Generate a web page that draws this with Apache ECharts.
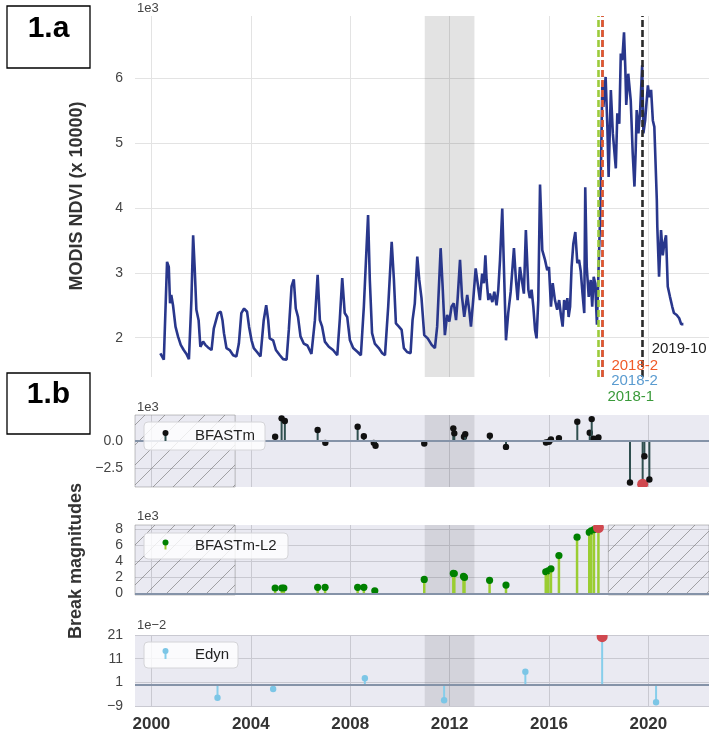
<!DOCTYPE html>
<html><head><meta charset="utf-8">
<script src="https://cdn.jsdelivr.net/npm/echarts@6/dist/echarts.min.js"></script>
<style>html,body{margin:0;padding:0;background:#fff}#c{width:709px;height:740px}</style>
</head><body><div id="c"></div>
<script>
// ---------- DATA ----------
const xTicks = [2000, 2004, 2008, 2012, 2016, 2020];
const ndviTicks = [2000, 3000, 4000, 5000, 6000];
const bfastmTicks = [-2500, 0];
const l2Ticks = [0, 2000, 4000, 6000, 8000];
const edynTicks = [-0.09, 0.01, 0.11, 0.21];

const ndviYears = [2000.36,2000.50,2000.63,2000.70,2000.75,2000.80,2000.87,2000.97,2001.07,2001.18,2001.30,2001.41,2001.51,2001.61,2001.68,2001.74,2001.81,2001.90,2001.97,2002.08,2002.17,2002.28,2002.42,2002.51,2002.59,2002.68,2002.79,2002.86,2002.92,2003.02,2003.15,2003.29,2003.42,2003.52,2003.62,2003.73,2003.85,2003.93,2004.03,2004.12,2004.25,2004.39,2004.52,2004.62,2004.70,2004.76,2004.90,2005.01,2005.17,2005.30,2005.44,2005.53,2005.64,2005.73,2005.81,2005.90,2006.00,2006.13,2006.28,2006.44,2006.58,2006.69,2006.78,2006.87,2006.98,2007.14,2007.31,2007.48,2007.58,2007.68,2007.78,2007.88,2007.99,2008.12,2008.30,2008.43,2008.55,2008.66,2008.72,2008.79,2008.88,2008.99,2009.15,2009.29,2009.40,2009.53,2009.67,2009.76,2009.84,2009.96,2010.07,2010.16,2010.29,2010.43,2010.51,2010.60,2010.70,2010.78,2010.87,2010.98,2011.12,2011.28,2011.41,2011.50,2011.64,2011.72,2011.81,2011.90,2011.99,2012.08,2012.17,2012.26,2012.32,2012.42,2012.50,2012.59,2012.71,2012.79,2012.86,2012.95,2013.05,2013.13,2013.22,2013.31,2013.38,2013.44,2013.49,2013.56,2013.62,2013.72,2013.80,2013.89,2013.96,2014.03,2014.12,2014.19,2014.27,2014.36,2014.46,2014.52,2014.59,2014.67,2014.74,2014.83,2014.91,2014.99,2015.07,2015.17,2015.23,2015.30,2015.37,2015.44,2015.50,2015.57,2015.64,2015.73,2015.84,2015.93,2016.00,2016.08,2016.15,2016.24,2016.33,2016.41,2016.48,2016.55,2016.61,2016.68,2016.74,2016.79,2016.85,2016.91,2016.98,2017.06,2017.14,2017.21,2017.28,2017.35,2017.42,2017.46,2017.52,2017.60,2017.68,2017.74,2017.80,2017.86,2017.93,2017.98,2018.06,2018.15,2018.19,2018.28,2018.35,2018.40,2018.49,2018.57,2018.69,2018.75,2018.83,2018.89,2018.95,2019.02,2019.07,2019.11,2019.19,2019.29,2019.37,2019.44,2019.49,2019.53,2019.60,2019.67,2019.75,2019.80,2019.87,2019.98,2020.04,2020.11,2020.18,2020.24,2020.34,2020.36,2020.43,2020.51,2020.58,2020.64,2020.71,2020.78,2020.87,2020.96,2021.03,2021.14,2021.24,2021.32,2021.41];
const ndviValues = [1760,1660,3170,3090,2530,2660,2500,2170,2020,1890,1810,1750,1670,2580,3580,3090,2430,2270,1860,1940,1890,1850,1810,2140,2170,2380,2400,2270,2070,1840,1810,1730,1710,1910,2380,2450,2400,2170,1960,1840,1780,1710,2270,2500,2270,1990,1960,1810,1730,1670,1660,2120,2790,2900,2450,2320,2020,1910,1880,1750,2270,2970,2270,2170,1940,1860,1810,1730,2270,2920,2380,2320,1960,1840,1780,1730,2480,3400,3890,2890,2070,1910,1840,1760,1730,2480,3480,2890,2220,2170,2120,1840,1780,1760,2270,2530,3250,2890,2610,2040,1990,1890,1840,2170,3380,2790,2040,2350,2250,2480,2530,2270,2580,3200,2630,2320,2660,2430,2170,2580,3070,3040,2580,2990,2840,3270,2890,2580,2680,2550,2710,2500,2740,3200,3990,3040,1960,2380,2710,2740,3380,2890,2580,3090,3120,2680,3660,2740,2610,2740,2480,2120,1990,2580,4360,3350,3200,3040,3090,2480,2840,2580,2430,2580,2350,2170,2580,2430,2610,2320,2480,3090,3450,3630,3150,3200,3020,2680,2380,4320,3090,2630,2890,2480,2940,2840,2200,2170,3900,5940,5560,6020,5250,4480,5820,5150,4610,5460,5300,6380,6280,6710,6180,5590,6070,5660,4840,4330,4890,5510,5150,5510,6200,5150,5350,5890,5710,5820,5350,5250,4120,3710,2940,3660,3270,3450,3580,2790,2630,2480,2380,2350,2300,2210,2210];

const breakDates = [2017.99, 2018.14, 2018.15, 2019.77];
const breakLabels = ['2018-1', '2018-2', '2018-2', '2019-10'];

const bfastmYears = [2004.98,2005.24,2005.37,2006.69,2007.00,2008.30,2008.55,2008.95,2009.02,2010.98,2012.15,2012.19,2012.58,2012.63,2013.62,2014.27,2015.88,2016.00,2016.08,2016.40,2017.14,2017.64,2017.72,2017.80,2017.99,2019.26,2019.77,2019.84,2020.04];
const bfastmMags = [370,2070,1820,990,-190,1300,430,-190,-460,-250,1150,690,370,620,460,-560,-150,-90,130,250,1760,740,2000,190,310,-3850,-4000,-1420,-3570];

const l2Years = [2004.98,2005.25,2005.33,2006.69,2006.99,2008.30,2008.55,2008.99,2010.98,2012.15,2012.19,2012.56,2012.60,2013.61,2014.27,2015.87,2015.97,2016.08,2016.40,2017.13,2017.62,2017.70,2017.81,2017.99];
const l2Mags = [660,660,660,740,740,740,740,320,1730,2480,2450,2100,1980,1610,1030,2680,2800,3050,4700,6980,7600,7760,7930,8180];

const edynYears = [2002.66,2004.90,2008.59,2011.78,2015.05,2018.14,2020.31];
const edynMags = [-0.055,-0.018,0.027,-0.066,0.055,0.203,-0.074];

const shadeRange = [2011, 2013];
const X_MIN = 1999.34, X_MAX = 2022.44;
const hatchLeft = [1999.34, 2003.37];
const hatchRight = [2018.39, 2022.44];

// ---------- STYLE ----------
const FONT = 'Liberation Sans, Arial, Helvetica, sans-serif';
const breakColors = ['#9ccb3b', '#4f94cd', '#e8552a', '#2a2a2a'];
const breakTextColors = ['#3a9a3a', '#5a9bd0', '#f05a28', '#222222'];
const breakTextY = [397, 381, 366, 349];

function hatchPattern() {
  const c = document.createElement('canvas');
  c.width = 20; c.height = 20;
  const g = c.getContext('2d');
  g.strokeStyle = 'rgba(110,110,110,0.6)';
  g.lineWidth = 1;
  g.beginPath();
  g.moveTo(0, 20); g.lineTo(20, 0);
  g.moveTo(-2, 2); g.lineTo(2, -2);
  g.moveTo(18, 22); g.lineTo(22, 18);
  g.stroke();
  return { image: c, repeat: 'repeat' };
}
const HATCH = hatchPattern();

const grids = [
  { left: 135, right: 0, top: 16, height: 361 },
  { left: 135, right: 0, top: 415, height: 72, show: true, backgroundColor: '#eaeaf2', borderWidth: 0 },
  { left: 135, right: 0, top: 525, height: 70, show: true, backgroundColor: '#eaeaf2', borderWidth: 0 },
  { left: 135, right: 0, top: 635, height: 71, show: true, backgroundColor: '#eaeaf2', borderWidth: 0 }
];

function xAxisCfg(gi, showLabels) {
  return {
    type: 'value', gridIndex: gi, min: X_MIN, max: X_MAX,
    axisLine: { show: false },
    axisTick: { show: false, customValues: xTicks },
    axisLabel: { show: showLabels, customValues: xTicks, margin: 10, fontSize: 17, fontWeight: 'bold', color: '#333', fontFamily: FONT, formatter: v => String(Math.round(v)) },
    splitLine: { show: true, lineStyle: { color: gi === 0 ? '#e3e3e3' : '#c9c9d1', width: 1 } }
  };
}
const minus = s => s.replace('-', '\u2212');
function yAxisCfg(gi, min, max, ticks, fmt) {
  return {
    type: 'value', gridIndex: gi, min: min, max: max,
    axisLine: { show: false },
    axisTick: { show: false, customValues: ticks },
    axisLabel: { customValues: ticks, margin: 12, fontSize: 14, color: '#444', fontFamily: FONT, formatter: fmt },
    splitLine: { show: true, lineStyle: { color: gi === 0 ? '#e3e3e3' : '#c9c9d1', width: 1 } }
  };
}

function stemSeries(gi, years, mags, stemColor, dotColor, r, stemW) {
  let hi = 0;
  mags.forEach((m, i) => { if (Math.abs(m) > Math.abs(mags[hi])) hi = i; });
  const data = years.map((y, i) => [y, mags[i], i === hi ? 1 : 0]);
  return {
    type: 'custom', xAxisIndex: gi, yAxisIndex: gi, clip: true, z: 3,
    data: data,
    renderItem: function (params, api) {
      const x = api.value(0), v = api.value(1), h = api.value(2);
      const p0 = api.coord([x, 0]), p1 = api.coord([x, v]);
      return {
        type: 'group', children: [
          { type: 'line', shape: { x1: p0[0], y1: p0[1], x2: p1[0], y2: p1[1] }, style: { stroke: stemColor, lineWidth: stemW } },
          { type: 'circle', shape: { cx: p1[0], cy: p1[1], r: h ? 5.5 : r }, style: { fill: h ? '#d0484f' : dotColor } }
        ]
      };
    }
  };
}

function panelMarks(gi, hatches) {
  const areas = [[{ xAxis: shadeRange[0], itemStyle: { color: 'rgba(60,60,70,0.13)' } }, { xAxis: shadeRange[1] }]];
  hatches.forEach(hr => areas.push([{ xAxis: hr[0], itemStyle: { color: HATCH, borderColor: 'rgba(120,120,120,0.45)', borderWidth: 1 } }, { xAxis: hr[1] }]));
  return {
    type: 'line', xAxisIndex: gi, yAxisIndex: gi, data: [], z: 1,
    markArea: { silent: true, data: areas },
    markLine: { silent: true, symbol: 'none', label: { show: false }, data: [{ yAxis: 0 }], lineStyle: { color: '#8593a8', width: 2, type: 'solid' } }
  };
}

const chart = echarts.init(document.getElementById('c'), null, { renderer: 'canvas' });
const option = {
  animation: false,
  backgroundColor: '#ffffff',
  textStyle: { fontFamily: FONT },
  grid: grids,
  xAxis: [xAxisCfg(0, false), xAxisCfg(1, false), xAxisCfg(2, false), xAxisCfg(3, true)],
  yAxis: [
    yAxisCfg(0, 1394, 6960, ndviTicks, v => String(Math.round(v / 1000))),
    yAxisCfg(1, -4260, 2380, bfastmTicks, v => minus((v / 1000).toFixed(1))),
    yAxisCfg(2, -210, 8500, l2Ticks, v => String(Math.round(v / 1000))),
    yAxisCfg(3, -0.09, 0.21, edynTicks, v => minus(String(Math.round(v * 100))))
  ],
  series: [
    {
      type: 'line', xAxisIndex: 0, yAxisIndex: 0, showSymbol: false, z: 3,
      data: ndviYears.map((y, i) => [y, ndviValues[i]]),
      lineStyle: { color: '#29378c', width: 2.6 },
      markArea: { silent: true, data: [[{ xAxis: shadeRange[0], itemStyle: { color: 'rgba(0,0,0,0.11)' } }, { xAxis: shadeRange[1] }]] },
      markLine: {
        silent: true, symbol: 'none', label: { show: false },
        data: breakDates.map((d, i) => ({ xAxis: d, lineStyle: { color: breakColors[i], width: 2.6, type: [7, 3] } }))
      }
    },
    panelMarks(1, [hatchLeft]),
    panelMarks(2, [hatchLeft, hatchRight]),
    panelMarks(3, []),
    stemSeries(1, bfastmYears, bfastmMags, '#2f4f4f', '#111111', 3.2, 2),
    stemSeries(2, l2Years, l2Mags, '#9acd32', '#008000', 3.6, 2.5),
    stemSeries(3, edynYears, edynMags, '#87ceeb', '#7cc6e6', 3.2, 2)
  ]
};
chart.setOption(option);

// ---------- ANNOTATIONS ----------
const g = [];
function box(x, y, w, h, label, ty) {
  g.push({ type: 'rect', shape: { x: x, y: y, width: w, height: h }, style: { fill: '#fff', stroke: '#000', lineWidth: 1.3 }, z: 10 });
  g.push({ type: 'text', x: x + w / 2, y: ty, style: { text: label, fontSize: 30, fontWeight: 'bold', fill: '#000', align: 'center', verticalAlign: 'middle', fontFamily: FONT }, z: 11 });
}
box(7, 6, 83, 62, '1.a', 29);
box(7, 373, 83, 61, '1.b', 395);

function vtext(x, y, t) {
  g.push({ type: 'text', x: x, y: y, rotation: Math.PI / 2, style: { text: t, fontSize: 18, fontWeight: 'bold', fill: '#333', align: 'center', verticalAlign: 'middle', fontFamily: FONT }, z: 10 });
}
vtext(77, 196, 'MODIS NDVI (x 10000)');
vtext(76, 561, 'Break magnitudes');

function otext(y, t) {
  g.push({ type: 'text', x: 137, y: y, style: { text: t, fontSize: 13, fill: '#444', align: 'left', verticalAlign: 'middle', fontFamily: FONT }, z: 10 });
}
otext(8, '1e3'); otext(407, '1e3'); otext(516, '1e3'); otext(625, '1e\u22122');

breakDates.forEach((d, i) => {
  const px = chart.convertToPixel({ xAxisIndex: 0 }, d);
  g.push({ type: 'text', x: px + 9, y: breakTextY[i], style: { text: breakLabels[i], fontSize: 15, fill: breakTextColors[i], align: 'left', verticalAlign: 'middle', fontFamily: FONT }, z: 10 });
});

function legend(x, y, w, h, name, stemColor, dotColor, iy1, iy2) {
  g.push({ type: 'rect', shape: { x: x, y: y, width: w, height: h, r: 4 }, style: { fill: 'rgba(255,255,255,0.8)', stroke: '#d4d4d8', lineWidth: 1 }, z: 20 });
  g.push({ type: 'line', shape: { x1: 165.5, y1: iy2, x2: 165.5, y2: iy1 }, style: { stroke: stemColor, lineWidth: 2 }, z: 21 });
  g.push({ type: 'circle', shape: { cx: 165.5, cy: iy1, r: 3 }, style: { fill: dotColor }, z: 22 });
  g.push({ type: 'text', x: 195, y: y + h / 2, style: { text: name, fontSize: 15, fill: '#222', align: 'left', verticalAlign: 'middle', fontFamily: FONT }, z: 22 });
}
legend(144, 422, 121, 28, 'BFASTm', '#2f4f4f', '#111', 433, 441);
legend(144, 533, 144, 26, 'BFASTm-L2', '#9acd32', '#008000', 542.5, 549.5);
legend(144, 642, 94, 26, 'Edyn', '#87ceeb', '#7cc6e6', 651, 659);

chart.setOption({ graphic: g });
</script>
</body></html>
